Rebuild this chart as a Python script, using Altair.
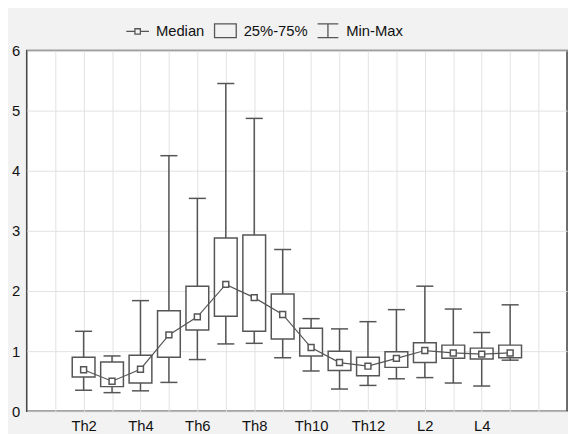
import altair as alt
import pandas as pd

segments = ["Th2", "Th3", "Th4", "Th5", "Th6", "Th7", "Th8", "Th9", "Th10",
            "Th11", "Th12", "L1", "L2", "L3", "L4", "L5"]
med = [0.69, 0.50, 0.70, 1.27, 1.57, 2.11, 1.89, 1.61, 1.06, 0.81, 0.75, 0.88, 1.01, 0.97, 0.95, 0.97]
q1 = [0.57, 0.41, 0.47, 0.90, 1.35, 1.58, 1.33, 1.20, 0.92, 0.68, 0.59, 0.73, 0.81, 0.88, 0.87, 0.89]
q3 = [0.90, 0.82, 0.93, 1.67, 2.08, 2.88, 2.93, 1.95, 1.38, 1.00, 0.90, 0.99, 1.14, 1.10, 1.05, 1.10]
vmin = [0.35, 0.31, 0.34, 0.48, 0.86, 1.12, 1.13, 0.89, 0.67, 0.37, 0.43, 0.54, 0.56, 0.47, 0.42, 0.85]
vmax = [1.33, 0.92, 1.84, 4.25, 3.54, 5.45, 4.87, 2.69, 1.54, 1.37, 1.49, 1.69, 2.08, 1.70, 1.31, 1.77]

tick_labels = ["Th2", "Th4", "Th6", "Th8", "Th10", "Th12", "L2", "L4"]
legend_items = ["Median", "25%-75%", "Min-Max"]

FONT = "Liberation Sans"
LINE = "#555555"

df = pd.DataFrame({"seg": segments, "med": med, "q1": q1, "q3": q3,
                   "vmin": vmin, "vmax": vmax})
df["slot"] = range(2, 2 + len(segments))

label_js = "[" + ",".join('"%s"' % t for t in tick_labels) + "]"
label_expr = f"(datum.value % 2 == 0 && datum.value >= 2 && datum.value <= 16) ? {label_js}[(datum.value - 2) / 2] : ''"

xscale = alt.Scale(domain=[0, 19], nice=False, zero=False)
yscale = alt.Scale(domain=[0, 6], nice=False, zero=True)

xaxis = alt.Axis(values=list(range(1, 19)), labelExpr=label_expr, grid=True,
                 gridColor="#e2e2e2", gridWidth=1, tickSize=0, labelPadding=8,
                 domain=False, title=None, labelFont=FONT, labelFontSize=15,
                 labelColor="#111", labelFlush=False, labelOverlap=False)
yaxis = alt.Axis(values=[0, 1, 2, 3, 4, 5, 6], grid=True, gridColor="#e2e2e2",
                 tickSize=0, labelPadding=7, domain=False, title=None,
                 labelFont=FONT, labelFontSize=15, labelColor="#111",
                 labelFlush=False, labelOverlap=False)

base = alt.Chart(df).transform_calculate(
    bl="datum.slot - 0.4", br="datum.slot + 0.4",
    cl="datum.slot - 0.3", cr="datum.slot + 0.3")

X = lambda f: alt.X(f, scale=xscale, axis=xaxis, title=None)
Y = lambda f: alt.Y(f, scale=yscale, axis=yaxis, title=None)

whisker = base.mark_rule(color=LINE, strokeWidth=1.5).encode(
    x=X("slot:Q"), y=Y("vmin:Q"), y2="vmax:Q")

cap_top = base.mark_rule(color=LINE, strokeWidth=1.5).encode(
    x=X("cl:Q"), x2="cr:Q", y=Y("vmax:Q"))

cap_bot = base.mark_rule(color=LINE, strokeWidth=1.5).encode(
    x=X("cl:Q"), x2="cr:Q", y=Y("vmin:Q"))

box = base.mark_rect(fill="white", stroke=LINE, strokeWidth=1.5).encode(
    x=X("bl:Q"), x2="br:Q", y=Y("q1:Q"), y2="q3:Q")

line = base.mark_line(color=LINE, strokeWidth=1.2).encode(
    x=X("slot:Q"), y=Y("med:Q"))

pts = base.mark_point(shape="square", size=36, filled=True, fill="white",
                      stroke=LINE, strokeWidth=1.5, opacity=1).encode(
    x=X("slot:Q"), y=Y("med:Q"))

shape_paths = [
    "M-0.92,0H-0.22M0.22,0H0.92M-0.22,-0.22H0.22V0.22H-0.22Z",
    "M-0.88,-0.56H0.88V0.56H-0.88Z",
    "M-0.84,-0.56H0.84M0,-0.56V0.56M-0.84,0.56H0.84",
]
leg_df = pd.DataFrame({"item": legend_items})
legend_layer = alt.Chart(leg_df).mark_point(filled=False, color=LINE, opacity=0, size=625).encode(
    x=alt.value(0), y=alt.value(0),
    shape=alt.Shape("item:N", scale=alt.Scale(domain=legend_items, range=shape_paths),
                    legend=alt.Legend(orient="none", direction="horizontal",
                                      legendX=99, legendY=-34, title=None,
                                      columns=3, columnPadding=6, labelOffset=5,
                                      symbolSize=625, symbolOpacity=1,
                                      symbolStrokeColor=LINE, symbolStrokeWidth=1.3,
                                      symbolFillColor="transparent",
                                      labelFont=FONT, labelFontSize=15,
                                      labelColor="#111")))

chart = alt.layer(whisker, cap_top, cap_bot, box, line, pts, legend_layer).properties(
    width=548, height=366,
    autosize=alt.AutoSizeParams(type="none"),
    padding={"left": 19, "top": 40, "right": 1, "bottom": 20},
    background="#f1f2f1",
).configure_view(fill="white", stroke="#4a4a4a", strokeWidth=1.6)

chart.save("out.html", embed_options={"renderer": "svg", "actions": False})
